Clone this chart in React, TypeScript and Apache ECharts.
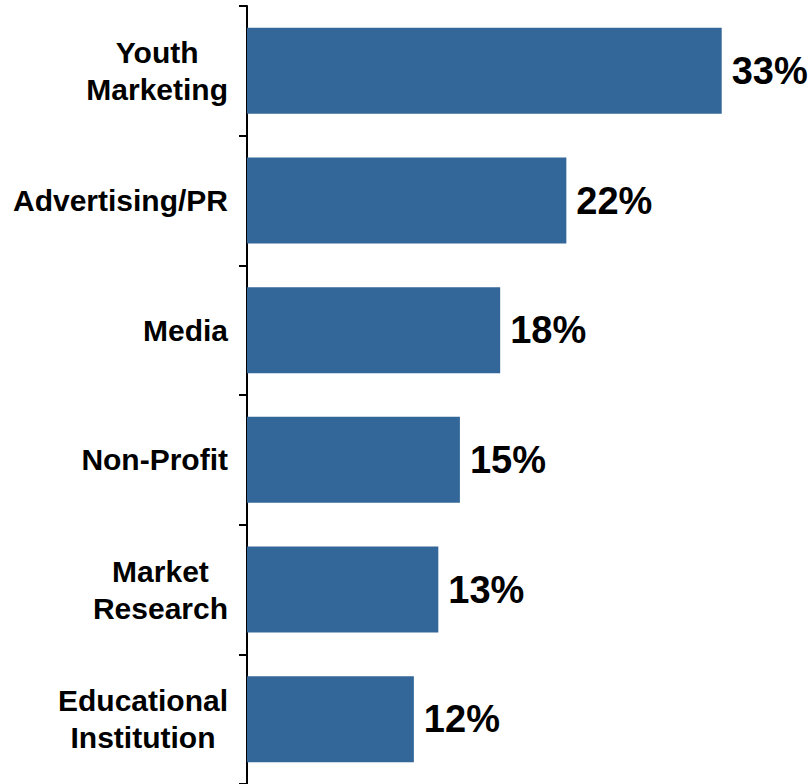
import React, { useEffect, useRef } from "react";
import * as echarts from "echarts";

const categories = [
  "Youth\nMarketing",
  "Advertising/PR",
  "Media",
  "Non-Profit",
  "Market\nResearch",
  "Educational\nInstitution",
];
const values = [33, 22.2, 17.6, 14.8, 13.3, 11.6];
const xMax = 38;

export default function App() {
  const ref = useRef<HTMLDivElement>(null);
  useEffect(() => {
    if (!ref.current) return;
    const chart = echarts.init(ref.current, undefined, { renderer: "svg" });
    const font = "'Liberation Sans', Arial, sans-serif";
    chart.setOption({
      animation: false,
      backgroundColor: "#ffffff",
      grid: { left: 247, top: 6, width: xMax * 14.385, height: 781, containLabel: false },
      xAxis: {
        type: "value",
        min: 0,
        max: xMax,
        show: false,
      },
      yAxis: {
        type: "category",
        inverse: true,
        data: categories,
        axisLine: { show: true, lineStyle: { color: "#000000", width: 2 } },
        axisTick: { show: true, length: 8, lineStyle: { color: "#000000", width: 2 } },
        axisLabel: {
          margin: 19,
          align: "right",
          formatter: (v: string) =>
            v
              .split("\n")
              .map((s) => `{c|${s}}`)
              .join("\n"),
          rich: {
            c: {
              align: "center",
              fontFamily: font,
              fontWeight: "bold",
              fontSize: 30,
              lineHeight: 37,
              color: "#000000",
            },
          },
        },
        splitLine: { show: false },
      },
      series: [
        {
          type: "bar",
          data: values,
          barWidth: 86,
          itemStyle: { color: "#336699" },
          label: {
            show: true,
            position: "right",
            distance: 10,
            formatter: (p: any) => `${Math.round(p.value)}%`,
            fontFamily: font,
            fontWeight: "bold",
            fontSize: 38,
            color: "#000000",
          },
        },
      ],
    });
    return () => chart.dispose();
  }, []);
  return (
    <div
      ref={ref}
      style={{ position: "fixed", left: 0, top: 0, width: 812, height: 784 }}
    />
  );
}
